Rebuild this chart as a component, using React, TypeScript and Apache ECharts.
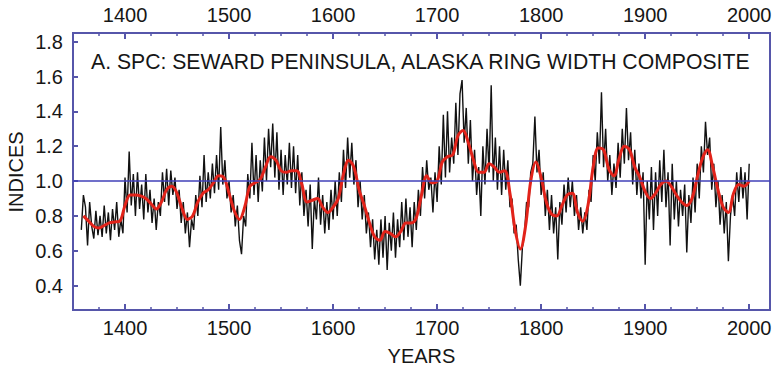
import React, { useEffect, useRef } from "react";
import * as echarts from "echarts";

// Annual ring-width composite (read every 2 years), start 1358
const RING_START = 1358;
const RING_STEP = 2;
const ring1350s = [0.72, 0.92, 0.85, 0.63, 0.88, 0.74, 0.67, 0.83, 0.69, 0.80, 0.68, 0.86, 0.70, 0.82, 0.66, 0.84, 0.72, 0.88, 0.68, 0.78, 0.70];
const ring1400s = [1.02, 0.82, 1.17, 0.86, 1.04, 0.80, 1.05, 0.84, 0.98, 0.78, 1.04, 0.82, 0.95, 0.76, 0.90, 0.72, 0.88, 0.80, 1.05, 0.88, 1.07, 0.86, 1.06, 0.92, 1.02, 0.84, 0.95, 0.76, 0.88, 0.70, 0.82, 0.62, 0.78, 0.72, 0.92, 0.80, 1.03, 0.85, 1.15, 0.88, 1.05, 0.90, 1.10, 0.93, 1.15, 0.95, 1.31, 0.98, 1.12, 0.90];
const ring1500s = [1.00, 0.82, 0.92, 0.74, 0.86, 0.66, 0.58, 0.80, 0.74, 1.04, 0.90, 1.22, 0.92, 1.15, 0.88, 1.12, 0.94, 1.25, 1.00, 1.30, 1.08, 1.33, 1.02, 1.28, 0.95, 1.18, 0.92, 1.15, 0.98, 1.22, 0.96, 1.20, 0.93, 1.15, 0.86, 1.05, 0.80, 0.95, 0.74, 0.98, 0.61, 0.90, 0.78, 1.02, 0.75, 0.92, 0.70, 0.88, 0.72, 0.95];
const ring1600s = [0.78, 1.00, 0.80, 1.05, 0.88, 1.18, 0.96, 1.25, 1.02, 1.22, 0.98, 1.12, 0.85, 1.00, 0.78, 0.92, 0.70, 0.82, 0.62, 0.78, 0.55, 0.72, 0.52, 0.78, 0.56, 0.80, 0.49, 0.76, 0.60, 0.82, 0.56, 0.78, 0.62, 0.88, 0.66, 0.90, 0.68, 0.85, 0.62, 0.88, 0.72, 0.95, 0.80, 1.08, 0.90, 1.12, 0.95, 1.02, 0.82, 1.05];
const ring1700s = [0.88, 1.20, 0.98, 1.38, 1.02, 1.40, 1.05, 1.25, 1.10, 1.45, 1.15, 1.50, 1.58, 1.22, 1.42, 1.10, 1.35, 1.00, 1.18, 0.92, 1.08, 0.80, 1.20, 0.98, 1.30, 1.05, 1.55, 1.00, 1.25, 0.95, 1.20, 0.92, 1.18, 0.95, 1.12, 0.85, 0.90, 0.70, 0.75, 0.55, 0.40, 0.62, 0.70, 0.88, 0.85, 1.05, 1.10, 1.37, 1.05, 1.18];
const ring1800s = [0.92, 1.05, 0.80, 0.95, 0.72, 0.92, 0.70, 0.85, 0.55, 0.88, 0.75, 0.98, 0.82, 1.02, 0.85, 1.00, 0.80, 0.92, 0.72, 0.85, 0.70, 0.82, 0.72, 0.95, 0.88, 1.15, 1.00, 1.28, 1.10, 1.51, 1.08, 1.30, 1.00, 1.15, 0.92, 1.10, 0.96, 1.22, 1.02, 1.30, 1.10, 1.42, 1.12, 1.28, 0.98, 1.18, 0.92, 1.10, 0.90, 1.05];
const ring1900s = [0.52, 1.00, 0.78, 1.08, 0.72, 1.05, 0.80, 1.12, 0.88, 1.18, 0.85, 1.05, 0.63, 1.10, 0.78, 1.00, 0.74, 0.95, 0.80, 0.98, 0.59, 0.92, 0.76, 1.02, 0.82, 1.10, 0.90, 1.20, 1.05, 1.34, 1.15, 1.25, 0.95, 1.10, 0.85, 1.00, 0.75, 0.92, 0.70, 0.88, 0.54, 0.80, 0.92, 0.80, 1.05, 0.88, 1.08, 0.90, 1.05, 0.78, 1.10];

// Smoothed curve (every 5 years), start 1360
const SMOOTH_START = 1360;
const SMOOTH_STEP = 5;
const smoothEarly = [0.80, 0.77, 0.74, 0.73, 0.745, 0.76, 0.765, 0.77, 0.86, 0.92, 0.92, 0.915, 0.90, 0.87, 0.84, 0.88, 0.95, 0.97, 0.93, 0.84, 0.78, 0.80, 0.88, 0.93, 0.95, 0.99, 1.03, 1.02, 0.93, 0.83, 0.78, 0.85, 0.97, 0.99, 1.01, 1.08, 1.14, 1.12, 1.06, 1.05, 1.06, 1.06, 0.98, 0.88, 0.89, 0.90, 0.85, 0.82];
const smoothMiddle = [0.85, 0.90, 1.04, 1.12, 1.08, 0.95, 0.86, 0.76, 0.68, 0.66, 0.71, 0.70, 0.68, 0.71, 0.76, 0.76, 0.79, 0.92, 1.03, 0.99, 1.00, 1.11, 1.14, 1.15, 1.26, 1.29, 1.22, 1.12, 1.05, 1.05, 1.10, 1.08, 1.05, 1.06, 0.93, 0.72, 0.61, 0.74, 1.00, 1.11];
const smoothLate = [1.02, 0.88, 0.81, 0.80, 0.86, 0.92, 0.93, 0.82, 0.77, 0.86, 1.08, 1.19, 1.18, 1.07, 1.03, 1.13, 1.20, 1.18, 1.08, 1.02, 0.94, 0.90, 0.93, 0.98, 1.00, 0.97, 0.92, 0.88, 0.86, 0.90, 1.02, 1.13, 1.18, 1.08, 0.95, 0.85, 0.82, 0.93, 0.98, 0.97, 1.00];

const yearTicks = [1400, 1500, 1600, 1700, 1800, 1900, 2000];
const minorYearTicks = [1375, 1425, 1450, 1475, 1525, 1550, 1575, 1625, 1650, 1675, 1725, 1750, 1775, 1825, 1850, 1875, 1925, 1950, 1975, 2000];
const indexTicks = [0.4, 0.6, 0.8, 1.0, 1.2, 1.4, 1.6, 1.8];
const chartTitle = "A. SPC: SEWARD PENINSULA, ALASKA RING WIDTH COMPOSITE";
const xName = "YEARS";
const yName = "INDICES";
const referenceLevel = 1.0;

const AXIS = "#5656aa";
const FONT = "'Liberation Sans', Arial, Helvetica, sans-serif";
const TEXT = "#161616";

export default function App() {
  const ref = useRef<HTMLDivElement>(null);
  useEffect(() => {
    if (!ref.current) return;
    const chart = echarts.init(ref.current, undefined, { renderer: "svg" });
    const ringValues = [...ring1350s, ...ring1400s, ...ring1500s, ...ring1600s, ...ring1700s, ...ring1800s, ...ring1900s];
    const ringData = ringValues.map((v, i) => [RING_START + i * RING_STEP, v]);
    const smoothValues = [...smoothEarly, ...smoothMiddle, ...smoothLate];
    const smoothData = smoothValues.map((v, i) => [SMOOTH_START + i * SMOOTH_STEP, v]);

    const majorX = (position: "top" | "bottom") => ({
      type: "value",
      position,
      min: 1350,
      max: 2020,
      axisLine: { show: false },
      splitLine: { show: false },
      axisTick: { show: true, inside: true, length: 6, customValues: yearTicks, lineStyle: { color: AXIS, width: 2 } },
      axisLabel: {
        show: true,
        customValues: yearTicks,
        margin: 8,
        fontSize: 20,
        color: TEXT,
        fontFamily: FONT,
        formatter: (v: number) => String(Math.round(v)),
      },
    });
    const minorX = (position: "top" | "bottom") => ({
      type: "value",
      position,
      min: 1350,
      max: 2020,
      axisLine: { show: false },
      splitLine: { show: false },
      axisTick: { show: true, inside: true, length: 3, customValues: minorYearTicks, lineStyle: { color: AXIS, width: 1.5 } },
      axisLabel: { show: false },
    });

    chart.setOption({
      animation: false,
      backgroundColor: "#ffffff",
      grid: { left: 73, right: 5, top: 33, bottom: 57, show: true, borderColor: AXIS, borderWidth: 2, backgroundColor: "transparent" },
      xAxis: [majorX("bottom"), minorX("bottom"), majorX("top"), minorX("top")],
      yAxis: {
        type: "value",
        min: 0.26,
        max: 1.85,
        axisLine: { show: false },
        splitLine: { show: false },
        axisTick: { show: true, inside: true, length: 5, customValues: indexTicks, lineStyle: { color: AXIS, width: 2 } },
        axisLabel: {
          customValues: indexTicks,
          margin: 10,
          fontSize: 20,
          color: TEXT,
          fontFamily: FONT,
          formatter: (v: number) => v.toFixed(1),
        },
      },
      graphic: [
        { type: "text", x: 91, y: 61, style: { text: chartTitle, fontSize: 21.2, fontFamily: FONT, fill: TEXT, align: "left", verticalAlign: "middle" } },
        { type: "text", x: 421.5, y: 356, style: { text: xName, fontSize: 20, fontFamily: FONT, fill: TEXT, align: "center", verticalAlign: "middle" } },
        { type: "text", x: 16, y: 172, rotation: Math.PI / 2, style: { text: yName, fontSize: 20, fontFamily: FONT, fill: TEXT, align: "center", verticalAlign: "middle" } },
      ],
      series: [
        {
          type: "line",
          name: "Ring width",
          data: ringData,
          xAxisIndex: 0,
          showSymbol: false,
          symbol: "none",
          lineStyle: { color: "#111111", width: 1.4 },
          z: 2,
          markLine: {
            silent: true,
            symbol: "none",
            label: { show: false },
            lineStyle: { color: "#4040b8", width: 1.5, type: "solid" },
            data: [{ yAxis: referenceLevel }],
          },
        },
        {
          type: "line",
          name: "Smoothed",
          data: smoothData,
          xAxisIndex: 0,
          showSymbol: false,
          symbol: "none",
          smooth: 0.35,
          lineStyle: { color: "#e2231a", width: 3 },
          z: 3,
        },
      ],
    });
    return () => chart.dispose();
  }, []);
  return <div ref={ref} style={{ position: "absolute", left: 0, top: 0, width: 775, height: 367 }} />;
}
